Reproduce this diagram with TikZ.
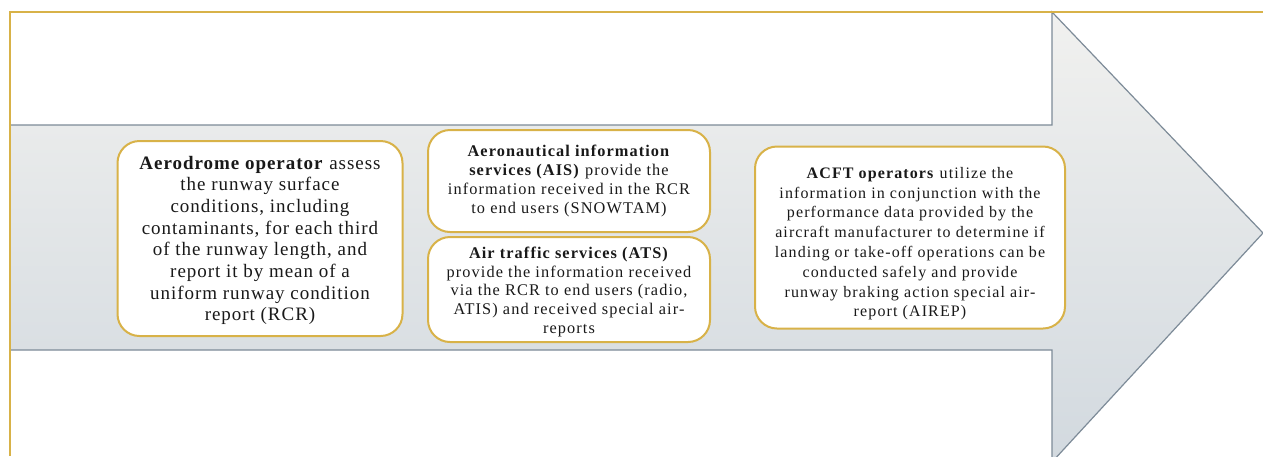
\documentclass[tikz,border=0pt]{standalone}
\usepackage{fontspec}
\setmainfont{Liberation Serif}
\newfontfamily\bigfont{Liberation Serif}[LetterSpace=5.1]
\newfontfamily\widefont{Liberation Serif}[LetterSpace=6.7]
\newfontfamily\midfont{Liberation Serif}[LetterSpace=7]
\definecolor{gold}{HTML}{D8B248}
\definecolor{arrowline}{HTML}{7D8B98}
\definecolor{shadetop}{HTML}{F1F1EF}
\definecolor{shadebot}{HTML}{D2D9DF}
\tikzset{
  infobox/.style={draw=gold, line width=2pt, fill=white, rounded corners=22pt,
    align=center, inner sep=2pt, text=black!90},
  framelineA/.style={draw=gold, line width=1.2pt},
}
\begin{document}
\begin{tikzpicture}[x=1pt,y=-1pt]
\useasboundingbox (0,0) rectangle (1263,456);
\fill[white] (0,0) rectangle (1263,456);
% arrow
\shade[top color=shadetop, bottom color=shadebot]
  (10,125) -- (1052,125) -- (1052,12) -- (1263,233) -- (1052,462) -- (1052,350) -- (10,350) -- cycle;
\draw[arrowline, line width=1.2pt]
  (10,125) -- (1052,125) -- (1052,12) -- (1263,233) -- (1052,462) -- (1052,350) -- (10,350);
% frame
\coordinate (ftl) at (10,12);
\coordinate (ftr) at (1263,12);
\coordinate (fbl) at (10,456);
\draw[framelineA] (fbl) -- (ftl) -- (ftr);
% boxes
\node[infobox, minimum width=285pt, minimum height=195pt,
  font=\bigfont\fontsize{19}{21.7}\selectfont] (aero) at (260,238.5)
  {\rule{0pt}{17pt}\textbf{Aerodrome operator} assess\\ the runway surface\\ conditions, including\\
   contaminants, for each third\\ of the runway length, and\\ report it by mean of a\\
   uniform runway condition\\ report (RCR)};
\node[infobox, minimum width=282pt, minimum height=102pt,
  font=\widefont\fontsize{16.3}{19}\selectfont] (ais) at (569,181)
  {\textbf{Aeronautical information}\\ \textbf{services (AIS)} provide the\\
   information received in the RCR\\ to end users (SNOWTAM)};
\node[infobox, minimum width=282pt, minimum height=105pt,
  font=\widefont\fontsize{16.3}{18.7}\selectfont] (ats) at (569,289.5)
  {\rule{0pt}{16pt}\textbf{Air traffic services (ATS)}\\ provide the information received\\
   via the RCR to end users (radio,\\ ATIS) and received special air-\\ reports};
\node[infobox, minimum width=310pt, minimum height=182pt,
  font=\midfont\fontsize{16}{19.8}\selectfont] (acft) at (910,237.5)
  {\rule{0pt}{23.5pt}\textbf{ACFT operators} utilize the\\ information in conjunction with the\\
   performance data provided by the\\ aircraft manufacturer to determine if\\
   landing or take-off operations can be\\ conducted safely and provide\\
   runway braking action special air-\\ report (AIREP)};
\end{tikzpicture}
\end{document}
